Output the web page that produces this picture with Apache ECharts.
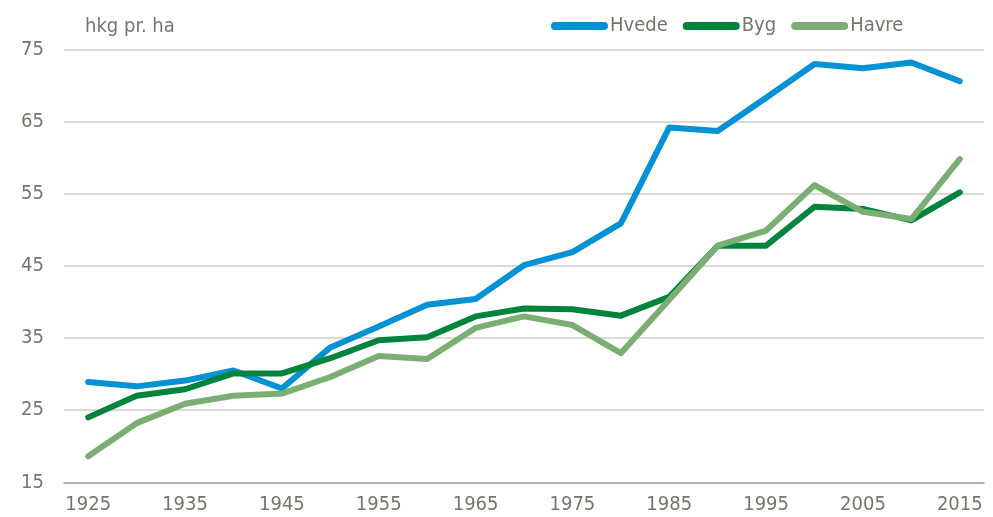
<!DOCTYPE html>
<html>
<head>
<meta charset="utf-8">
<script src="https://cdn.jsdelivr.net/npm/echarts@6/dist/echarts.min.js"></script>
<style>
  html, body { margin: 0; padding: 0; background: #ffffff; }
  #chart { width: 993px; height: 517px; }
</style>
</head>
<body>
<div id="chart"></div>
<script>
  // data (hkg pr. ha)
  var years = ['1925', '1930', '1935', '1940', '1945', '1950', '1955', '1960', '1965', '1970',
               '1975', '1980', '1985', '1990', '1995', '2000', '2005', '2010', '2015'];
  var hvede = [28.9, 28.3, 29.1, 30.5, 28.0, 33.7, 36.6, 39.6, 40.4, 45.1,
               46.9, 50.9, 64.2, 63.7, 68.3, 73.0, 72.4, 73.2, 70.6];
  var byg = [24.0, 27.0, 27.9, 30.1, 30.1, 32.2, 34.7, 35.1, 38.0, 39.1,
             39.0, 38.1, 40.7, 47.8, 47.8, 53.2, 52.9, 51.3, 55.2];
  var havre = [18.6, 23.2, 25.9, 27.0, 27.3, 29.6, 32.5, 32.1, 36.4, 38.0,
               36.8, 32.9, 40.3, 47.8, 49.9, 56.2, 52.5, 51.5, 59.8];
  var unitLabel = 'hkg pr. ha';

  var font = "'Liberation Sans Narrow', 'DejaVu Sans Condensed', sans-serif";
  var textColor = '#77746a';
  var capsule = 'path://M4,0 L53,0 A4,4 0 0 1 53,8 L4,8 A4,4 0 0 1 4,0 Z';

  var chartDom = document.getElementById('chart');
  var myChart = echarts.init(chartDom);

  function lineSeries(name, data, color) {
    return {
      name: name,
      type: 'line',
      data: data,
      symbol: 'none',
      lineStyle: { color: color, width: 6, cap: 'round', join: 'round' },
      itemStyle: { color: color },
      animation: false
    };
  }

  var option = {
    backgroundColor: '#ffffff',
    textStyle: { fontFamily: font },
    title: {
      text: unitLabel,
      left: 80,
      top: 12,
      textStyle: { fontFamily: font, fontSize: 20, fontWeight: 'normal', color: textColor }
    },
    legend: {
      top: 11,
      left: 546,
      itemWidth: 57,
      itemHeight: 8,
      itemGap: 15,
      icon: capsule,
      textStyle: { fontFamily: font, fontSize: 20, color: textColor, padding: [0, 0, 0, -3] },
      data: ['Hvede', 'Byg', 'Havre']
    },
    grid: {
      left: 64,
      right: 9,
      top: 49.5,
      bottom: 34.7
    },
    xAxis: {
      type: 'category',
      data: years,
      boundaryGap: true,
      axisTick: { show: false },
      axisLine: { lineStyle: { color: '#a9a697', width: 1.5 } },
      axisLabel: { interval: 1, margin: 12, fontFamily: font, fontSize: 20, color: textColor }
    },
    yAxis: {
      type: 'value',
      min: 15,
      max: 75,
      interval: 10,
      axisLine: { show: false },
      axisTick: { show: false },
      axisLabel: { margin: 20, fontFamily: font, fontSize: 20, color: textColor },
      splitLine: { lineStyle: { color: '#cfcdc4', width: 1.5 } }
    },
    series: [
      lineSeries('Hvede', hvede, '#0092d4'),
      lineSeries('Byg', byg, '#00843d'),
      lineSeries('Havre', havre, '#7aae73')
    ]
  };

  option && myChart.setOption(option);
</script>
</body>
</html>
